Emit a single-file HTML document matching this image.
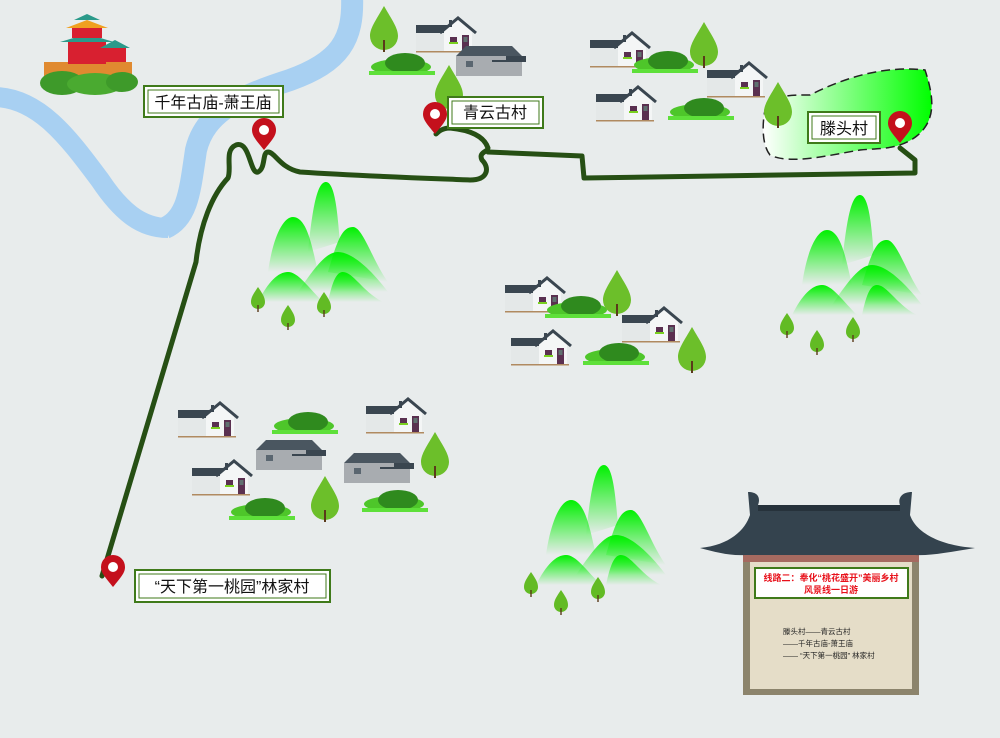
<!DOCTYPE html>
<html><head><meta charset="utf-8"><style>
body{margin:0;background:#e8ecec;}
svg{display:block}
text{font-family:"Liberation Sans","Noto Sans CJK SC",sans-serif;}
</style></head><body>
<svg width="1000" height="738" viewBox="0 0 1000 738" xmlns="http://www.w3.org/2000/svg">
<defs>
<linearGradient id="mg" x1="0" y1="0" x2="0" y2="1"><stop offset="0" stop-color="#00f000"/><stop offset="1" stop-color="#00f000" stop-opacity="0"/></linearGradient>
<linearGradient id="tg" x1="0" y1="0" x2="1" y2="0"><stop offset="0" stop-color="#fff"/><stop offset="1" stop-color="#00ff00"/></linearGradient>
<g id="house">
<rect x="0" y="12" width="30" height="22" fill="#e4e8e8"/>
<rect x="0" y="8" width="34" height="8" fill="#3a4650"/>
<polygon points="28,34 28,14 42,2 56,14 56,34" fill="#f4f6f6"/>
<polyline points="24,16 42,1 60,16" fill="none" stroke="#3a4650" stroke-width="3"/>
<rect x="33" y="3" width="3" height="7" fill="#3a4650"/>
<rect x="34" y="20" width="7" height="6" fill="#5a3050"/><rect x="33" y="25" width="9" height="2" fill="#7ad020"/>
<rect x="46" y="18" width="7" height="16" fill="#5a3050"/><rect x="47.5" y="20" width="4" height="5" fill="#607070"/>
<rect x="0" y="34" width="58" height="1.5" fill="#b08a60"/>
</g>
<g id="ghouse">
<polygon points="4,10 14,0 60,0 70,10" fill="#4a5660"/>
<rect x="4" y="10" width="66" height="20" fill="#a8acb0"/>
<polygon points="40,14 54,14 54,10 74,10 74,16 40,16" fill="#3a4650"/>
<rect x="14" y="15" width="7" height="6" fill="#5a6670"/>
</g>
<g id="bush">
<ellipse cx="32" cy="12" rx="30" ry="8" fill="#4ec62a"/>
<ellipse cx="36" cy="8" rx="20" ry="10" fill="#2f8a1e"/>
<rect x="0" y="16" width="66" height="4" fill="#5ee03a"/>
</g>
<g id="tree">
<path d="M0,0 C-8,14 -14,22 -14,30 A14,14 0 0 0 14,30 C14,22 8,14 0,0Z" fill="#6cbf2a"/>
<rect x="-1" y="34" width="2" height="12" fill="#5a3a1a"/>
</g>
<g id="stree">
<path d="M0,0 C-4,6 -7,10 -7,15 A7,7 0 0 0 7,15 C7,10 4,6 0,0Z" fill="#62bb24"/>
<rect x="-0.7" y="18" width="1.4" height="7" fill="#5a3a1a"/>
</g>
<g id="mtn">
<path d="M-10,-10 C-5,-60 0,-80 8,-80 C18,-80 20,-40 22,-20 Z" fill="url(#mg)"/>
<path d="M-50,10 C-45,-25 -35,-45 -25,-45 C-10,-45 -5,-10 0,10 Z" fill="url(#mg)"/>
<path d="M10,10 C20,-25 25,-35 35,-35 C45,-35 55,0 70,20 Z" fill="url(#mg)"/>
<path d="M-20,30 C0,0 10,-10 20,-10 C35,-10 55,10 70,30 Z" fill="url(#mg)"/>
<path d="M-60,40 C-50,20 -40,10 -30,10 C-20,10 -10,25 5,40 Z" fill="url(#mg)"/>
<path d="M10,40 C15,15 20,10 25,10 C35,10 45,30 65,40 Z" fill="url(#mg)"/>
</g>
<g id="pin">
<path d="M0,0 C-8,-10 -12,-14 -12,-20 A12,12 0 0 1 12,-20 C12,-14 8,-10 0,0Z" fill="#c4101c"/>
<circle cx="0" cy="-20" r="5" fill="#fff"/>
</g>
</defs>

<!-- river -->
<path d="M352,-5 C354,40 340,62 290,80 C240,96 205,112 196,150 C190,190 188,218 165,228" fill="none" stroke="#a8d0f2" stroke-width="22"/>
<path d="M-5,97 C40,98 70,140 100,180 C120,210 140,228 168,228" fill="none" stroke="#a8d0f2" stroke-width="20"/>

<!-- tengtou area -->
<path d="M765,110 C770,95 790,95 810,95 C840,80 880,65 925,70 C935,100 935,120 918,135 C900,150 880,148 860,150 C830,155 790,165 770,155 C762,145 762,125 765,110Z" fill="url(#tg)" stroke="#222" stroke-width="1.5" stroke-dasharray="9,5"/>

<!-- mountains -->
<use href="#mtn" x="318" y="262"/>
<use href="#mtn" x="852" y="275"/>
<use href="#mtn" x="596" y="545"/>
<use href="#stree" x="258" y="287"/><use href="#stree" x="288" y="305"/><use href="#stree" x="324" y="292"/>
<use href="#stree" x="787" y="313"/><use href="#stree" x="817" y="330"/><use href="#stree" x="853" y="317"/>
<use href="#stree" x="531" y="572"/><use href="#stree" x="561" y="590"/><use href="#stree" x="598" y="577"/>

<!-- houses -->
<use href="#house" x="416" y="17"/>
<use href="#ghouse" x="452" y="46"/>
<use href="#house" x="590" y="32"/>
<use href="#house" x="596" y="86"/>
<use href="#house" x="707" y="62"/>
<use href="#house" x="505" y="277"/>
<use href="#house" x="622" y="307"/>
<use href="#house" x="511" y="330"/>
<use href="#house" x="178" y="402"/>
<use href="#house" x="366" y="398"/>
<use href="#house" x="192" y="460"/>
<use href="#ghouse" x="252" y="440"/>
<use href="#ghouse" x="340" y="453"/>

<!-- bushes -->
<use href="#bush" x="369" y="55"/><use href="#bush" x="632" y="53"/><use href="#bush" x="668" y="100"/>
<use href="#bush" x="545" y="298"/><use href="#bush" x="583" y="345"/><use href="#bush" x="272" y="414"/>
<use href="#bush" x="229" y="500"/><use href="#bush" x="362" y="492"/>

<!-- trees -->
<use href="#tree" x="384" y="6"/><use href="#tree" x="449" y="65"/><use href="#tree" x="704" y="22"/>
<use href="#tree" x="778" y="82"/><use href="#tree" x="617" y="270"/><use href="#tree" x="692" y="327"/>
<use href="#tree" x="435" y="432"/><use href="#tree" x="325" y="476"/>

<!-- temple -->
<g>
<rect x="44" y="62" width="88" height="16" fill="#e08a30"/>
<rect x="68" y="40" width="38" height="24" fill="#d82030"/>
<polygon points="60,42 87,34 114,42" fill="#2a9a8a"/>
<rect x="72" y="26" width="30" height="12" fill="#d82030"/>
<polygon points="66,28 87,20 108,28" fill="#f0a020"/>
<polygon points="74,20 87,14 100,20" fill="#2a9a8a"/>
<rect x="104" y="46" width="22" height="16" fill="#d82030"/>
<polygon points="100,48 115,40 130,48" fill="#2a9a8a"/>
<ellipse cx="62" cy="83" rx="22" ry="12" fill="#3e9a2a"/>
<ellipse cx="95" cy="84" rx="28" ry="11" fill="#4aaa30"/>
<ellipse cx="122" cy="82" rx="16" ry="10" fill="#3e9a2a"/>
</g>

<!-- route -->
<path d="M102,576 L196,262 C200,225 212,195 228,178 C232,168 224,150 236,145 C250,140 250,175 258,172 C266,168 262,152 268,152 C275,152 280,168 300,172 C360,176 420,178 470,180 C488,180 490,168 482,160 C478,152 488,152 488,148 C484,136 470,130 450,128 C442,128 438,132 436,134 M488,152 L582,156 L584,178 L915,173 L915,160 L900,148" fill="none" stroke="#264f14" stroke-width="5" stroke-linejoin="round" stroke-linecap="round"/>

<!-- pins -->
<use href="#pin" x="264" y="150"/>
<use href="#pin" x="435" y="134"/>
<use href="#pin" x="900" y="143"/>
<use href="#pin" x="113" y="587"/>

<!-- labels -->
<g fill="#fff" stroke="#3f7a1a" stroke-width="2">
<rect x="144" y="86" width="139" height="31"/>
<rect x="448" y="97" width="95" height="31"/>
<rect x="808" y="112" width="72" height="31"/>
<rect x="135" y="570" width="195" height="32"/>
</g>
<g fill="none" stroke="#3f7a1a" stroke-width="1">
<rect x="148" y="90" width="131" height="23"/><rect x="452" y="101" width="87" height="23"/>
<rect x="812" y="116" width="64" height="23"/><rect x="139" y="574" width="187" height="24"/>
</g>
<g font-size="16" fill="#111" text-anchor="middle">
<text x="213" y="108">千年古庙-萧王庙</text>
<text x="495" y="118">青云古村</text>
<text x="844" y="134">滕头村</text>
<text x="232" y="592">“天下第一桃园”林家村</text>
</g>

<!-- signboard -->
<rect x="743" y="552" width="176" height="143" fill="#8c846c"/>
<rect x="750" y="560" width="162" height="129" fill="#e5ddc8"/>
<rect x="743" y="552" width="176" height="10" fill="#a66a60"/>
<path d="M700,548 C730,545 745,530 750,515 L748,492 C760,492 760,500 758,505 L900,505 C898,500 900,492 912,492 L910,515 C915,530 935,545 975,548 C950,552 930,556 915,555 L745,555 C730,556 715,552 700,548Z" fill="#34434e"/>
<rect x="758" y="505" width="142" height="6" fill="#26323b"/>
<rect x="755" y="568" width="153" height="30" fill="#fff" stroke="#3f7a1a" stroke-width="2"/>
<g font-size="9" fill="#e8101a" text-anchor="middle" font-weight="bold">
<text x="831" y="581">线路二：奉化“桃花盛开”美丽乡村</text>
<text x="831" y="593">风景线一日游</text>
</g>
<g font-size="7.5" fill="#222">
<text x="783" y="634">滕头村——青云古村</text>
<text x="783" y="646">——千年古庙-萧王庙</text>
<text x="783" y="658">—— “天下第一桃园” 林家村</text>
</g>
</svg>
</body></html>
